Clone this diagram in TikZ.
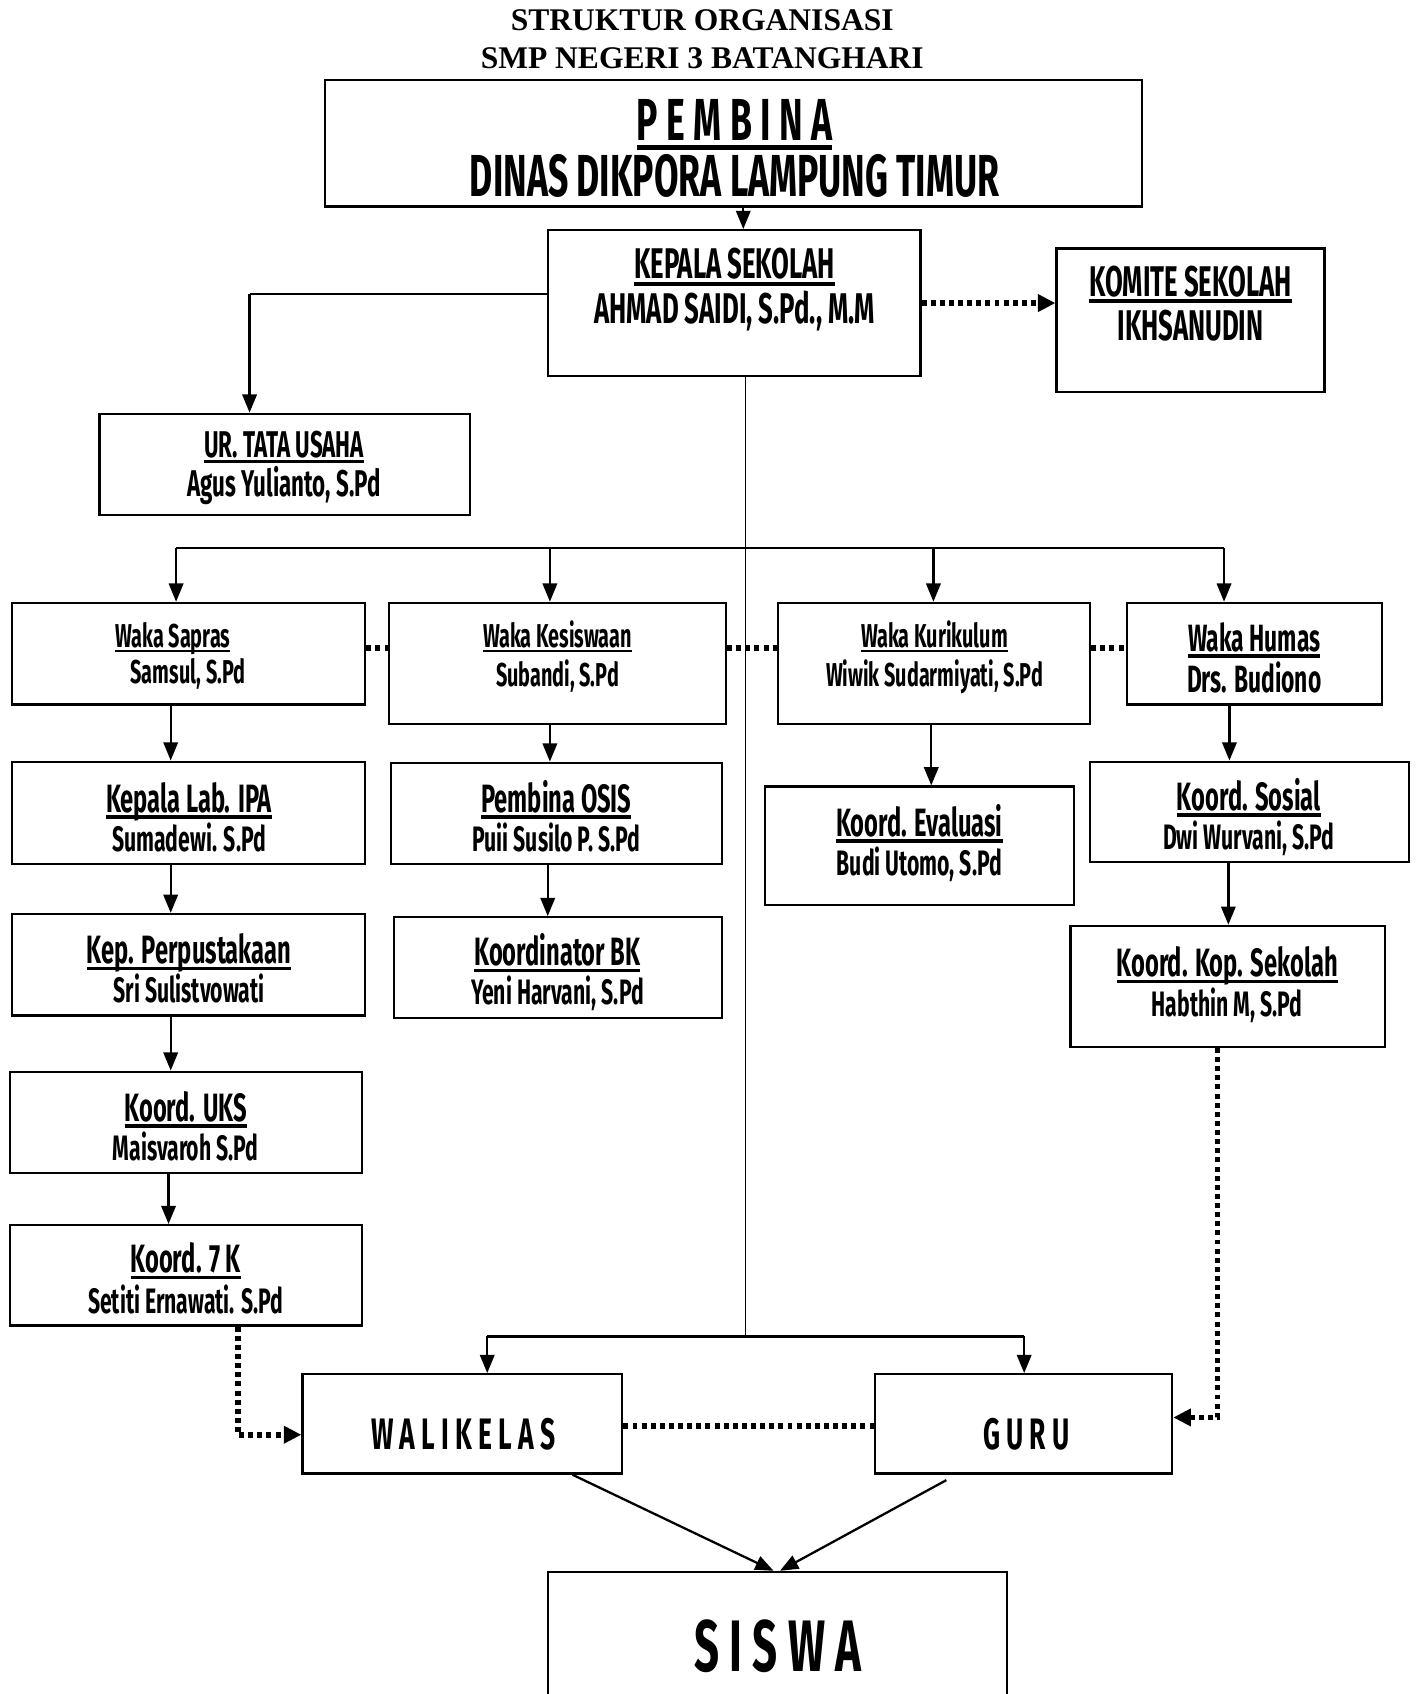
\documentclass[tikz,border=0pt]{standalone}
\usepackage{fontspec}
\setmainfont{Liberation Serif}
\newfontfamily\ag{Fira Sans}[FakeStretch=0.6]
\usetikzlibrary{arrows.meta,fit}
\newcommand\ulx[1]{\setbox0=\hbox{#1}\rlap{\rule[-0.16em]{\wd0}{0.085em}}\box0}
\newcommand\fs[1]{\ag\bfseries\fontsize{#1}{#1}\selectfont}
\tikzset{
  box/.style={draw, line width=0.6pt, inner sep=0pt, rectangle},
  ln/.style={line width=0.6pt},
  thinl/.style={line width=0.4pt},
  arr/.style={line width=0.6pt, -{Triangle[width=3.8pt,length=4.8pt]}},
  dot/.style={line width=1.5pt, dash pattern=on 1.3pt off 1.1pt},
  dotarr/.style={dot, -{Triangle[width=4.4pt,length=4.6pt]}},
  tx/.style={anchor=base, inner sep=0pt},
}
\begin{document}
\begin{tikzpicture}[x=0.01cm,y=-0.01cm]
\useasboundingbox (0,0) rectangle (1311,1568);
\clip (0,0) rectangle (1311,1568);
\fill[white] (0,0) rectangle (1311,1568);

% title
\node[tx, font=\bfseries\fontsize{8.3}{9}\selectfont] (t1) at (650,28) {STRUKTUR ORGANISASI};
\node[tx, font=\bfseries\fontsize{8.3}{9}\selectfont] (t2) at (650,63) {SMP NEGERI 3 BATANGHARI};

% boxes
\node[box, fit={(301,74) (1057,191)}] (pb) {};
\node[box, fit={(507,213) (852,348)}] (ks) {};
\node[box, fit={(978,230) (1226,363)}] (km) {};
\node[box, fit={(92,383) (435,477)}] (ut) {};
\node[box, fit={(11,558) (338,652)}] (ws) {};
\node[box, fit={(360,558) (672,670)}] (wk) {};
\node[box, fit={(720,558) (1009,670)}] (wc) {};
\node[box, fit={(1043,558) (1279,652)}] (wh) {};
\node[box, fit={(11,705) (338,800)}] (kl) {};
\node[box, fit={(11,846) (338,940)}] (kp) {};
\node[box, fit={(9,992) (335,1086)}] (uks) {};
\node[box, fit={(9,1134) (335,1227)}] (k7) {};
\node[box, fit={(362,706) (668,800)}] (os) {};
\node[box, fit={(365,849) (668,942)}] (bk) {};
\node[box, fit={(708,728) (994,838)}] (ev) {};
\node[box, fit={(1009,705) (1304,798)}] (so) {};
\node[box, fit={(991,857) (1282,969)}] (kop) {};
\node[box, fit={(280,1272) (576,1364)}] (wl) {};
\node[box, fit={(810,1272) (1085,1364)}] (gr) {};
\node[box, fit={(507,1455) (932,1600)}] (sw) {};

% texts
\node[tx, font=\fs{15.6}] (pb1) at (680,130) {\ulx{P E M B I N A}};
\node[tx, font=\fs{15.6}] (pb2) at (680,182) {DINAS DIKPORA LAMPUNG TIMUR};
\node[tx, font=\fs{11.3}] (ks1) at (680,258) {\ulx{KEPALA SEKOLAH}};
\node[tx, font=\fs{11.3}] (ks2) at (680,299) {AHMAD SAIDI, S.Pd., M.M};
\node[tx, font=\fs{11.3}] (km1) at (1102,274) {\ulx{KOMITE SEKOLAH}};
\node[tx, font=\fs{11.3}] (km2) at (1102,315) {IKHSANUDIN};
\node[tx, font=\fs{9.8}] (ut1) at (263,423) {\ulx{UR. TATA USAHA}};
\node[tx, font=\fs{9.8}] (ut2) at (263,460) {Agus Yulianto, S.Pd};
\node[tx, font=\fs{8.7}] (ws1) at (160,599) {\ulx{Waka Sapras}};
\node[tx, font=\fs{8.7}] (ws2) at (174,633) {Samsul, S.Pd};
\node[tx, font=\fs{8.7}] (wk1) at (516,599) {\ulx{Waka Kesiswaan}};
\node[tx, font=\fs{8.7}] (wk2) at (516,635) {Subandi, S.Pd};
\node[tx, font=\fs{8.7}] (wc1) at (865,599) {\ulx{Waka Kurikulum}};
\node[tx, font=\fs{8.7}] (wc2) at (865,635) {Wiwik Sudarmiyati, S.Pd};
\node[tx, font=\fs{10}] (wh1) at (1161,603) {\ulx{Waka Humas}};
\node[tx, font=\fs{10}] (wh2) at (1161,641) {Drs. Budiono};
\node[tx, font=\fs{10.4}] (kl1) at (175,752) {\ulx{Kepala Lab. IPA}};
\node[tx, font=\fs{9.3}] (kl2) at (175,788) {Sumadewi. S.Pd};
\node[tx, font=\fs{10.4}] (kp1) at (175,892) {\ulx{Kep. Perpustakaan}};
\node[tx, font=\fs{9.3}] (kp2) at (175,928) {Sri Sulistvowati};
\node[tx, font=\fs{10.4}] (uks1) at (172,1038) {\ulx{Koord. UKS}};
\node[tx, font=\fs{9.3}] (uks2) at (172,1074) {Maisvaroh S.Pd};
\node[tx, font=\fs{10.4}] (k71) at (172,1178) {\ulx{Koord. 7 K}};
\node[tx, font=\fs{9.3}] (k72) at (172,1216) {Setiti Ernawati. S.Pd};
\node[tx, font=\fs{10.4}] (os1) at (515,752) {\ulx{Pembina OSIS}};
\node[tx, font=\fs{9.3}] (os2) at (515,788) {Puii Susilo P. S.Pd};
\node[tx, font=\fs{10.4}] (bk1) at (516,894) {\ulx{Koordinator BK}};
\node[tx, font=\fs{9.3}] (bk2) at (516,930) {Yeni Harvani, S.Pd};
\node[tx, font=\fs{10.4}] (ev1) at (851,774) {\ulx{Koord. Evaluasi}};
\node[tx, font=\fs{9.3}] (ev2) at (851,810) {Budi Utomo, S.Pd};
\node[tx, font=\fs{10.4}] (so1) at (1156,750) {\ulx{Koord. Sosial}};
\node[tx, font=\fs{9.3}] (so2) at (1156,786) {Dwi Wurvani, S.Pd};
\node[tx, font=\fs{10.4}] (kop1) at (1136,904) {\ulx{Koord. Kop. Sekolah}};
\node[tx, font=\fs{9.3}] (kop2) at (1136,941) {Habthin M, S.Pd};
\node[tx, font=\fs{11.6}] (wl1) at (429,1342) {W A L I K E L A S};
\node[tx, font=\fs{11.6}] (gr1) at (950,1342) {G U R U};
\node[tx, font=\fs{19.2}] (sw1) at (720,1547) {S I S W A};

% coordinates
\coordinate (c688) at (688,0);
\coordinate (c231) at (231,272);
\coordinate (c690) at (690,0);
\coordinate (a1) at (163,507);
\coordinate (a2) at (509,507);
\coordinate (a3) at (864,507);
\coordinate (a4) at (1133,507);
\coordinate (c600) at (0,600);
\coordinate (c158) at (158,0);
\coordinate (c156) at (156,0);
\coordinate (c509) at (509,0);
\coordinate (c507) at (507,0);
\coordinate (c862) at (862,0);
\coordinate (c1138) at (1138,0);
\coordinate (c1137) at (1137,0);
\coordinate (c220) at (220,1328);
\coordinate (c1127) at (1127,1312);
\coordinate (c1320) at (0,1320);
\coordinate (b1) at (451,1237);
\coordinate (b2) at (948,1237);
\coordinate (bm) at (690,1237);
\coordinate (w530) at (530,0);
\coordinate (g876) at (876,1370);
\coordinate (s716) at (716,0);
\coordinate (s722) at (722,0);

% connectors
\draw[arr] (pb.south -| c688) -- (ks.north -| c688);
\draw[dotarr] (ks.east) -- (ks.east -| km.west);
\draw[ln] (ks.west |- c231) -- (c231);
\draw[arr] (c231) -- (c231 |- ut.north);
\draw[thinl] (ks.south -| c690) -- (bm);
\draw[ln] (a1) -- (a4);
\draw[arr] (a1) -- (a1 |- ws.north);
\draw[arr] (a2) -- (a2 |- wk.north);
\draw[arr] (a3) -- (a3 |- wc.north);
\draw[arr] (a4) -- (a4 |- wh.north);
\draw[dot] (ws.east |- c600) -- (wk.west |- c600);
\draw[dot] (wk.east |- c600) -- (wc.west |- c600);
\draw[dot] (wc.east |- c600) -- (wh.west |- c600);
\draw[arr] (ws.south -| c158) -- (kl.north -| c158);
\draw[arr] (kl.south -| c158) -- (kp.north -| c158);
\draw[arr] (kp.south -| c158) -- (uks.north -| c158);
\draw[arr] (uks.south -| c156) -- (k7.north -| c156);
\draw[arr] (wk.south -| c509) -- (os.north -| c509);
\draw[arr] (os.south -| c507) -- (bk.north -| c507);
\draw[arr] (wc.south -| c862) -- (ev.north -| c862);
\draw[arr] (wh.south -| c1138) -- (so.north -| c1138);
\draw[arr] (so.south -| c1137) -- (kop.north -| c1137);
\draw[dotarr] (k7.south -| c220) -- (c220) -- (c220 -| wl.west);
\draw[dotarr] (kop.south -| c1127) -- (c1127) -- (c1127 -| gr.east);
\draw[dot] (wl.east |- c1320) -- (gr.west |- c1320);
\draw[ln] (b1) -- (b2);
\draw[arr] (b1) -- (b1 |- wl.north);
\draw[arr] (b2) -- (b2 |- gr.north);
\draw[arr] (wl.south -| w530) -- (sw.north -| s716);
\draw[arr] (g876) -- (sw.north -| s722);
\end{tikzpicture}
\end{document}
